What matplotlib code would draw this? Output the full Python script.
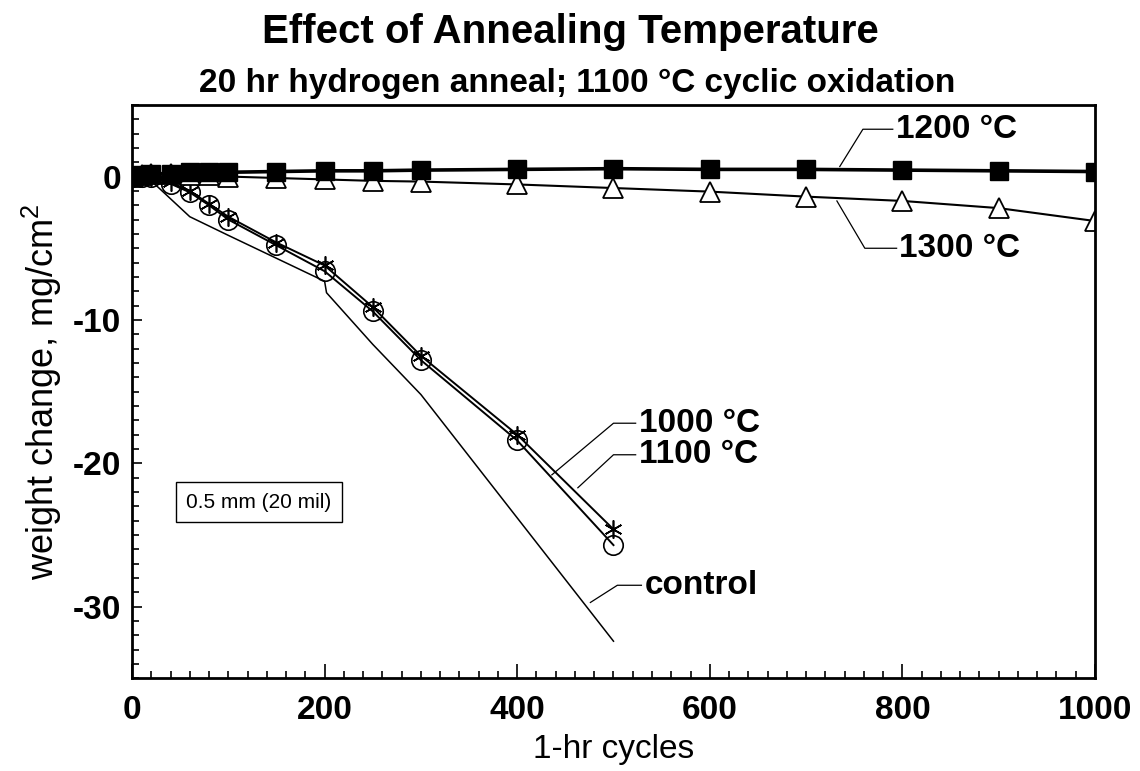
"""
Effect of annealing temperature on cyclic oxidation weight change.
"""

import matplotlib
matplotlib.use("Agg")
import matplotlib.pyplot as plt
from matplotlib.ticker import MultipleLocator


plt.rcParams["font.family"] = ["Liberation Sans", "DejaVu Sans"]
plt.rcParams["mathtext.fontset"] = "custom"
plt.rcParams["mathtext.rm"] = "Liberation Sans"
plt.rcParams["axes.unicode_minus"] = False

# 1200 C anneal (filled squares)
cycles_1200 = [0, 10, 20, 40, 60, 80, 100, 150, 200, 250, 300, 400, 500, 600, 700, 800, 900, 1000]
wt_1200 = [0.0, 0.1, 0.2, 0.2, 0.3, 0.3, 0.3, 0.35, 0.4, 0.4, 0.45, 0.5, 0.55, 0.5, 0.5, 0.45, 0.4, 0.35]

# 1300 C anneal (open triangles)
cycles_1300 = [0, 10, 20, 40, 60, 80, 100, 150, 200, 250, 300, 400, 500, 600, 700, 800, 900, 1000]
wt_1300 = [0.0, 0.1, 0.2, 0.2, 0.1, 0.1, 0.0, -0.1, -0.2, -0.3, -0.35, -0.55, -0.8, -1.05, -1.4, -1.7, -2.2, -3.1]

# 1000 C anneal (asterisks)
cycles_1000 = [0, 10, 20, 40, 60, 80, 100, 150, 200, 250, 300, 400, 500]
wt_1000 = [0.0, 0.0, 0.0, -0.4, -1.0, -1.9, -2.8, -4.6, -6.2, -9.1, -12.5, -18.0, -24.6]

# 1100 C anneal (open circles)
cycles_1100 = [0, 10, 20, 40, 60, 80, 100, 150, 200, 250, 300, 400, 500]
wt_1100 = [0.0, 0.0, 0.0, -0.5, -1.1, -2.0, -3.0, -4.8, -6.6, -9.4, -12.8, -18.4, -25.7]

# control (no marker)
cycles_ctrl = [0, 20, 60, 100, 150, 200, 202, 250, 300, 400, 500]
wt_ctrl = [0.0, -0.3, -2.8, -4.1, -5.7, -7.3, -8.1, -11.7, -15.2, -23.8, -32.4]

# curve labels: text, point on curve, elbow, end of horizontal leader
labels = ["1200 °C", "1300 °C", "1000 °C", "1100 °C", "control"]
label_start = [(735, 0.7), (732, -1.7), (436, -20.8), (463, -21.7), (476, -29.7)]
label_elbow = [(759, 3.3), (761, -5.0), (500, -17.2), (500, -19.4), (504, -28.5)]
label_end_x = [790, 794, 523, 523, 529]


def main():
    fig = plt.figure(figsize=(11.4, 7.71), dpi=100)
    ax = fig.add_axes([0.1158, 0.12, 0.8447, 0.744])

    ax.plot(cycles_ctrl, wt_ctrl, color="black", lw=1.1)
    ax.plot(cycles_1100, wt_1100, color="black", lw=1.4, marker="o",
            ms=14, mfc="none", mec="black", mew=1.2)
    ax.plot(cycles_1000, wt_1000, color="black", lw=1.4, marker=(6, 2, 0),
            ms=13, mec="black", mew=1.2)
    ax.plot(cycles_1300, wt_1300, color="black", lw=1.5, marker="^",
            ms=14, mfc="white", mec="black", mew=1.3)
    ax.plot(cycles_1200, wt_1200, color="black", lw=2.6, marker="s",
            ms=13, mfc="black", mec="black")

    for text, p0, p1, x2 in zip(labels, label_start, label_elbow, label_end_x):
        ax.plot([p0[0], p1[0], x2], [p0[1], p1[1], p1[1]], color="black", lw=0.9)
        ax.text(x2 + 3, p1[1], text, fontsize=24, fontweight="bold",
                va="center", ha="left")

    ax.text(132, -22.7, "0.5 mm (20 mil)", fontsize=15, ha="center", va="center",
            bbox=dict(boxstyle="square,pad=0.5", fc="white", ec="black", lw=1.0))

    ax.set_xlim(0, 1000)
    ax.set_ylim(-35, 5)
    ax.xaxis.set_major_locator(MultipleLocator(200))
    ax.xaxis.set_minor_locator(MultipleLocator(20))
    ax.yaxis.set_major_locator(MultipleLocator(10))
    ax.yaxis.set_minor_locator(MultipleLocator(1))
    ax.tick_params(which="both", direction="in", width=1.2, labelsize=24)
    ax.tick_params(axis="x", which="major", length=10, pad=12)
    ax.tick_params(axis="x", which="minor", length=5)
    ax.tick_params(axis="y", which="major", length=7, pad=8)
    ax.tick_params(axis="y", which="minor", length=5)
    for lab in ax.get_xticklabels() + ax.get_yticklabels():
        lab.set_fontweight("bold")
    for spine in ax.spines.values():
        spine.set_linewidth(2.0)

    ax.set_xlabel("1-hr cycles", fontsize=24, labelpad=6)
    ax.set_ylabel("weight change, mg/cm$^2$", fontsize=26, labelpad=6)

    fig.text(0.5, 0.944, "Effect of Annealing Temperature", fontsize=29,
             fontweight="bold", ha="center", va="baseline")
    fig.text(0.506, 0.881, "20 hr hydrogen anneal; 1100 °C cyclic oxidation",
             fontsize=24, fontweight="bold", ha="center", va="baseline")

    fig.savefig("out.png", dpi=100)
    plt.close(fig)


if __name__ == "__main__":
    main()
